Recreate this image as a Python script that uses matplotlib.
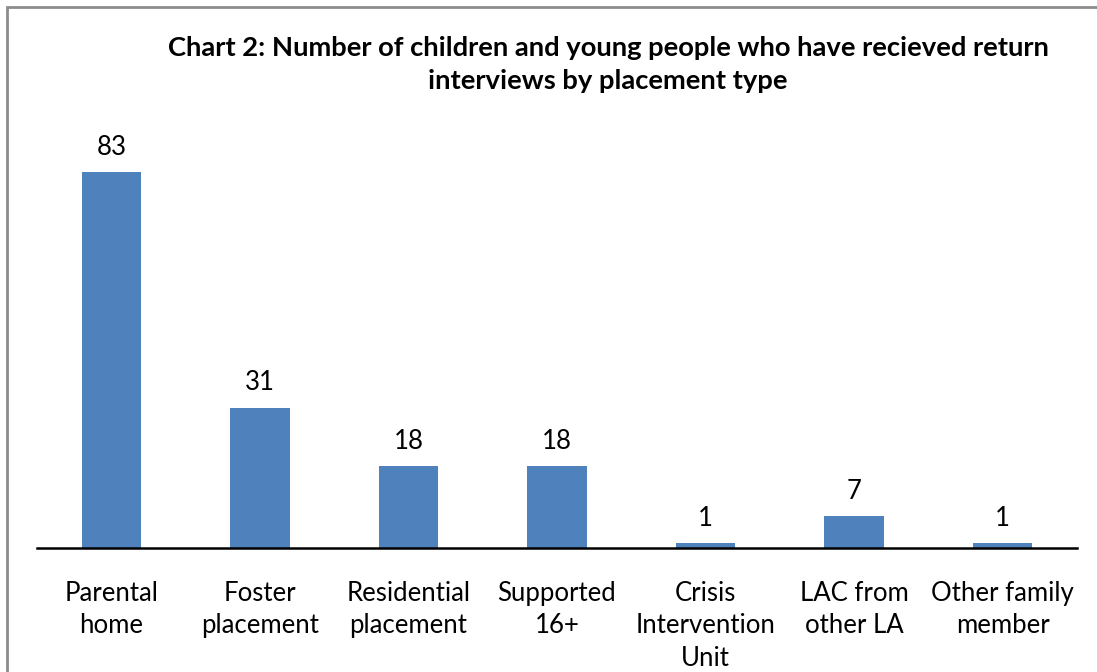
import matplotlib
matplotlib.use("Agg")
import matplotlib.pyplot as plt
from matplotlib.patches import Rectangle

categories = ["Parental\nhome", "Foster\nplacement", "Residential\nplacement",
              "Supported\n16+", "Crisis\nIntervention\nUnit", "LAC from\nother LA",
              "Other family\nmember"]
values = [83, 31, 18, 18, 1, 7, 1]
title = "Chart 2: Number of children and young people who have recieved return\ninterviews by placement type"

plt.rcParams['font.family'] = ['Lato', 'DejaVu Sans']

W, H = 1097, 672
fig = plt.figure(figsize=(W/100, H/100), dpi=100)
fig.patches.append(Rectangle((7/W, -0.1), 1.2, (672-7)/H + 0.1, transform=fig.transFigure,
                             fill=False, edgecolor='#8c8c8c', linewidth=2))

ax = fig.add_axes([37/W, (672-548)/H, (1077-37)/W, 92*4.53/H])
x = list(range(len(values)))
bars = ax.bar(x, values, width=0.40, color='#4F81BD', zorder=2)
ax.set_xlim(-0.5, len(values)-0.5)
ax.set_ylim(0, 92)
for xi, v in zip(x, values):
    ax.annotate(str(v), (xi, v), xytext=(0, 12.3), textcoords='offset points',
                ha='center', va='baseline', fontsize=18.5)
ax.set_xticks(x)
ax.set_xticklabels(categories, fontsize=18.5, linespacing=1.39)
ax.tick_params(axis='x', length=0, pad=23.5)
ax.set_yticks([])
for s in ['top', 'right', 'left']:
    ax.spines[s].set_visible(False)
ax.spines['bottom'].set_linewidth(1.8)
ax.spines['bottom'].set_color('black')

fig.text(608/W, 1 - 64.5/H, title, ha='center', va='center', fontsize=19.7,
         fontweight='bold', linespacing=1.43)

fig.savefig("out.png", dpi=100)
